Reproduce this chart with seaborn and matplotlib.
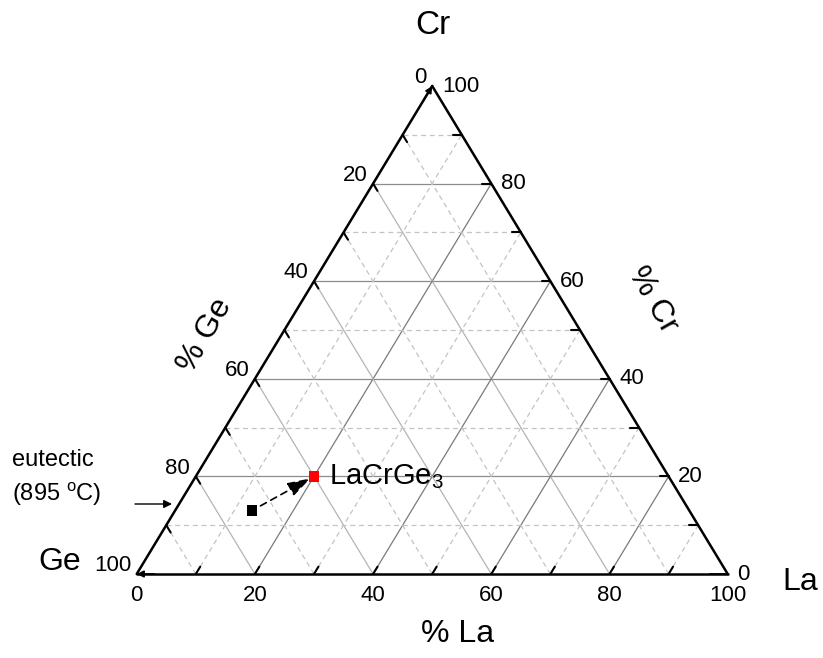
import numpy as np
import matplotlib
matplotlib.use('Agg')
import matplotlib.pyplot as plt
import seaborn as sns

# composition data (at.%)
phase_names = ['eutectic', 'LaCrGe3']
la_pct = [13, 20]
cr_pct = [13, 20]
ge_pct = [74, 60]
point_colors = ['black', 'red']

major = [0, 20, 40, 60, 80, 100]
minor = [10, 30, 50, 70, 90]

sns.set_theme(style='white')
plt.rcParams['font.family'] = ['Liberation Sans', 'DejaVu Sans']
plt.rcParams['mathtext.default'] = 'regular'
plt.rcParams['text.color'] = 'black'


def tern(la, cr):
    la = np.asarray(la, dtype=float)
    cr = np.asarray(cr, dtype=float)
    return la / 100 + cr / 200, cr / 100


fig = plt.figure(figsize=(8.23, 6.58), dpi=100)
ax = fig.add_axes([136.7 / 823, 84 / 658, 591 / 823, 488 / 658])
ax.set_xlim(0, 1)
ax.set_ylim(0, 1)
ax.axis('off')


def seg(p1, p2, **kw):
    x1, y1 = tern(*p1)
    x2, y2 = tern(*p2)
    ax.plot([x1, x2], [y1, y2], clip_on=False, **kw)


# grid lines
for v in major[1:-1] + minor:
    solid = v in major
    ls = '-' if solid else (0, (4, 3))
    # constant Cr (horizontal)
    seg((0, v), (100 - v, v), color='#8c8c8c' if solid else '#c4c4c4', lw=0.9, ls=ls)
    # constant La (up-right)
    seg((v, 0), (v, 100 - v), color='#7a7a7a' if solid else '#c4c4c4', lw=0.9, ls=ls)
    # constant Ge (down-right)
    seg((100 - v, 0), (0, 100 - v), color='#b4b4b4' if solid else '#c4c4c4', lw=0.9, ls=ls)

# triangle edges
seg((0, 0), (100, 0), color='black', lw=1.8)
seg((100, 0), (0, 100), color='black', lw=1.8)
seg((0, 100), (0, 0), color='black', lw=1.8)

# ticks
d = 1.5
for v in major[1:-1] + minor:
    seg((v, 0), (v, d), color='black', lw=1.5)                  # La axis
    seg((0, 100 - v), (d, 100 - v - d), color='black', lw=1.5)  # Ge axis
    seg((100 - v, v), (100 - v - d, v), color='black', lw=1.5)  # Cr axis

# small arrowheads at axis ends
arw = dict(arrowstyle='-|>', color='black', lw=1.2, mutation_scale=10, shrinkA=0, shrinkB=0)
ax.annotate('', xy=tern(0, 100), xytext=tern(0, 97), arrowprops=arw, annotation_clip=False)
ax.annotate('', xy=tern(0, 0), xytext=tern(3, 0), arrowprops=arw, annotation_clip=False)
ax.annotate('', xy=tern(100, 0), xytext=tern(97, 0), arrowprops=dict(arw, arrowstyle='-'), annotation_clip=False)

# tick labels
tfs = 16
for v in major:
    x, y = tern(v, 0)
    ax.annotate(str(v), (x, y), xytext=(0, -8), textcoords='offset points',
                ha='center', va='top', fontsize=tfs, annotation_clip=False)
    x, y = tern(0, 100 - v)
    ax.annotate(str(v), (x, y), xytext=(-4, 6), textcoords='offset points',
                ha='right', va='center', fontsize=tfs, annotation_clip=False)
    x, y = tern(100 - v, v)
    ax.annotate(str(v), (x, y), xytext=(7, 0), textcoords='offset points',
                ha='left', va='center', fontsize=tfs, annotation_clip=False)

# axis titles / corners
afs = 23
fig.text(433 / 823, 1 - 25 / 658, 'Cr', ha='center', va='center', fontsize=24)
fig.text(60 / 823, 1 - 562 / 658, 'Ge', ha='center', va='center', fontsize=afs)
fig.text(800 / 823, 1 - 582 / 658, 'La', ha='center', va='center', fontsize=afs)
fig.text(458 / 823, 1 - 634 / 658, '% La', ha='center', va='center', fontsize=afs)
fig.text(205 / 823, 1 - 335 / 658, '% Ge', ha='center', va='center', fontsize=afs, rotation=60)
fig.text(653 / 823, 1 - 300 / 658, '% Cr', ha='center', va='center', fontsize=afs, rotation=-60)

# data points
px, py = tern(la_pct, cr_pct)
ax.annotate('', xy=(px[1], py[1]), xytext=(px[0], py[0]),
            arrowprops=dict(arrowstyle='-|>,head_length=0.7,head_width=0.22', color='black',
                            lw=1.2, ls=(0, (4, 3)), mutation_scale=20, shrinkA=7, shrinkB=3))
sns.scatterplot(x=px, y=py, hue=phase_names, palette=point_colors, marker='s',
                s=60, edgecolor='none', legend=False, ax=ax, zorder=5, clip_on=False)
ax.annotate('LaCrGe$_3$', (px[1], py[1]), xytext=(11, 0), textcoords='offset points',
            ha='left', va='center', fontsize=21)

# eutectic note
fig.text(12 / 823, 1 - 460 / 658, 'eutectic', ha='left', va='center', fontsize=17)
fig.text(12 / 823, 1 - 494 / 658, '(895 $^{o}$C)', ha='left', va='center', fontsize=17)
ax.annotate('', xy=(172, 658 - 504), xytext=(135, 658 - 504), xycoords='figure pixels',
            textcoords='figure pixels',
            arrowprops=dict(arrowstyle='-|>', color='black', lw=1.0, mutation_scale=12,
                            shrinkA=0, shrinkB=0), annotation_clip=False)

fig.savefig('out.png', dpi=100)
